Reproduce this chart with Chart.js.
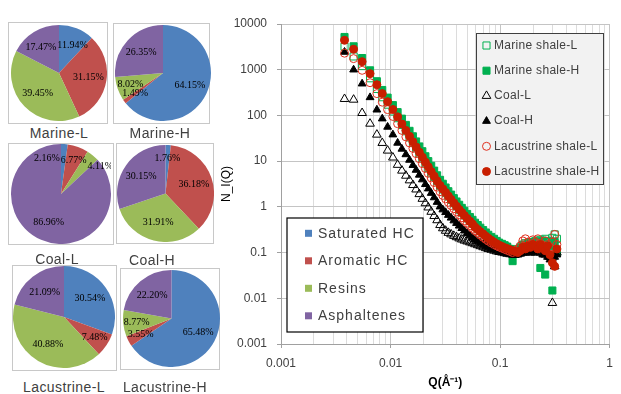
<!DOCTYPE html>
<html>
<head>
<meta charset="utf-8">
<script src="https://cdn.jsdelivr.net/npm/chart.js@4/dist/chart.umd.min.js"></script>
<style>
  body { margin: 0; width: 621px; height: 394px; position: relative; overflow: hidden; background: #fff; font-family: 'Liberation Sans', Arial, sans-serif; }
  canvas, .frame, .name { position: absolute; }
  .frame { box-sizing: border-box; border: 1px solid #c8c8c8; }
  .name { transform: translate(-50%, -50%); font-size: 14px; color: #404040; letter-spacing: 0.4px; white-space: nowrap; }
</style>
</head>
<body>
<canvas id="sansChart" width="411" height="394" style="left:210px;top:0"></canvas>

<div class="frame" style="left:8px;top:22px;width:100px;height:102px"></div>
<div class="frame" style="left:113px;top:23px;width:97px;height:101px"></div>
<div class="frame" style="left:8px;top:143px;width:106px;height:102px"></div>
<div class="frame" style="left:116px;top:143px;width:98px;height:101px"></div>
<div class="frame" style="left:12px;top:265px;width:105px;height:106px"></div>
<div class="frame" style="left:120px;top:268px;width:100px;height:102px"></div>

<canvas id="pieMarineL" width="96" height="96" style="left:11px;top:25px"></canvas>
<canvas id="pieMarineH" width="96" height="96" style="left:115px;top:25px"></canvas>
<canvas id="pieCoalL" width="100" height="100" style="left:11px;top:144px"></canvas>
<canvas id="pieCoalH" width="97" height="97" style="left:117px;top:145px"></canvas>
<canvas id="pieLacL" width="102" height="102" style="left:13px;top:266px"></canvas>
<canvas id="pieLacH" width="97" height="97" style="left:123px;top:270px"></canvas>

<div class="name" style="left:59px;top:133px">Marine-L</div>
<div class="name" style="left:160px;top:133px">Marine-H</div>
<div class="name" style="left:57px;top:259px">Coal-L</div>
<div class="name" style="left:152px;top:260px">Coal-H</div>
<div class="name" style="left:64px;top:387px">Lacustrine-L</div>
<div class="name" style="left:165px;top:387px">Lacustrine-H</div>

<script>
// Group composition (%), clockwise from 12 o'clock
const pieCategories = ["Saturated HC", "Aromatic HC", "Resins", "Asphaltenes"];
const pieColors = ["#4F81BD", "#C0504D", "#9BBB59", "#8064A2"];
const marineL = [11.94, 31.15, 39.45, 17.47];
const marineH = [64.15, 1.49, 8.02, 26.35];
const coalL = [2.16, 6.77, 4.11, 86.96];
const coalH = [1.76, 36.18, 31.91, 30.15];
const lacustrineL = [30.54, 7.48, 40.88, 21.09];
const lacustrineH = [65.48, 3.55, 8.77, 22.20];

// SANS curves: Q (1/Å) and N_I(Q)
const qValues = [0.0038, 0.0046, 0.0055, 0.0065, 0.0075, 0.0084, 0.0094, 0.0105, 0.0116, 0.0127,
  0.0138, 0.0149, 0.016, 0.0171, 0.0183, 0.0195, 0.0208, 0.0221, 0.0235, 0.025,
  0.0266, 0.0283, 0.03, 0.0318, 0.0337, 0.0357, 0.0378, 0.04, 0.0423, 0.0447,
  0.0472, 0.05, 0.053, 0.056, 0.059, 0.0625, 0.066, 0.07, 0.074, 0.078,
  0.083, 0.088, 0.093, 0.098, 0.104, 0.11, 0.116, 0.123, 0.13, 0.137,
  0.145, 0.153, 0.161, 0.17, 0.179, 0.189, 0.199, 0.21, 0.221, 0.233,
  0.245, 0.258, 0.271, 0.285, 0.3, 0.315, 0.33];
const marineShaleL = [3200, 1950, 1200, 650, 380, 250, 172, 122, 87, 62,
  45, 33, 25, 19.2, 14.8, 11.5, 9.0, 7.1, 5.6, 4.5,
  3.6, 2.9, 2.4, 2.0, 1.68, 1.42, 1.2, 1.02, 0.87, 0.75,
  0.65, 0.56, 0.49, 0.43, 0.38, 0.335, 0.295, 0.265, 0.238, 0.215,
  0.195, 0.178, 0.165, 0.155, 0.146, 0.138, 0.13, 0.12, 0.11, 0.105,
  0.11, 0.12, 0.14, 0.16, 0.15, 0.17, 0.16, 0.18, 0.17, 0.19,
  0.16, 0.2, 0.18, 0.17, 0.21, 0.25, 0.2];
const marineShaleH = [5200, 3250, 1800, 970, 560, 360, 245, 168, 118, 85,
  62, 46, 35, 27, 21, 16.5, 12.8, 10, 7.9, 6.2,
  4.9, 3.9, 3.2, 2.65, 2.2, 1.85, 1.55, 1.31, 1.11, 0.95,
  0.82, 0.7, 0.6, 0.52, 0.45, 0.4, 0.35, 0.31, 0.275, 0.245,
  0.22, 0.2, 0.18, 0.165, 0.155, 0.145, 0.135, 0.12, 0.065, 0.1,
  0.12, 0.13, 0.15, 0.14, 0.16, 0.15, 0.17, 0.16, 0.15, 0.046,
  0.18, 0.033, 0.16, 0.14, 0.0148, 0.17, 0.1];
const coalShaleL = [229, 221, 113, 66, 38, 25, 17, 12, 8.3, 6.2,
  4.8, 3.8, 3.0, 2.4, 1.9, 1.5, 1.2, 0.97, 0.78, 0.63,
  0.51, 0.4, 0.34, 0.3, 0.27, 0.25, 0.232, 0.217, 0.204, 0.193,
  0.183, 0.175, 0.167, 0.16, 0.152, 0.145, 0.138, 0.131, 0.125, 0.12,
  0.115, 0.11, 0.106, 0.103, 0.1, 0.097, 0.094, 0.092, 0.09, 0.09,
  0.092, 0.095, 0.1, 0.1, 0.105, 0.1, 0.11, 0.1, 0.12, 0.1,
  0.11, 0.09, 0.1, 0.08, 0.0079, 0.05, 0.1];
const coalShaleH = [2440, 1000, 494, 248, 133, 85, 56, 38, 25, 18.5,
  14, 10.6, 8.15, 6.4, 5.0, 3.95, 3.12, 2.5, 2.0, 1.6,
  1.27, 1.01, 0.87, 0.76, 0.66, 0.575, 0.5, 0.44, 0.385, 0.34,
  0.3, 0.265, 0.235, 0.21, 0.19, 0.175, 0.162, 0.15, 0.14, 0.132,
  0.125, 0.118, 0.113, 0.108, 0.104, 0.1, 0.097, 0.094, 0.09, 0.088,
  0.09, 0.095, 0.1, 0.11, 0.1, 0.12, 0.11, 0.1, 0.13, 0.11,
  0.09, 0.1, 0.08, 0.07, 0.076, 0.08, 0.09];
const lacustrineShaleL = [2300, 1750, 970, 520, 300, 195, 134, 95, 66, 47,
  34, 25, 19, 14.6, 11.3, 8.8, 6.9, 5.4, 4.3, 3.4,
  2.7, 2.15, 1.78, 1.5, 1.26, 1.07, 0.91, 0.78, 0.67, 0.58,
  0.5, 0.44, 0.39, 0.34, 0.3, 0.27, 0.24, 0.215, 0.195, 0.178,
  0.163, 0.15, 0.14, 0.132, 0.125, 0.118, 0.112, 0.106, 0.1, 0.11,
  0.12, 0.14, 0.18, 0.2, 0.17, 0.15, 0.19, 0.17, 0.2, 0.16,
  0.14, 0.18, 0.15, 0.13, 0.17, 0.25, 0.15];
const lacustrineShaleH = [4400, 2800, 1500, 820, 470, 300, 200, 135, 93, 65,
  47, 35, 26.5, 20.4, 15.7, 12.2, 9.5, 7.5, 5.9, 4.7,
  3.7, 2.95, 2.46, 2.06, 1.72, 1.45, 1.22, 1.03, 0.875, 0.75,
  0.647, 0.557, 0.484, 0.42, 0.36, 0.32, 0.285, 0.255, 0.228, 0.205,
  0.185, 0.168, 0.155, 0.145, 0.136, 0.128, 0.122, 0.116, 0.11, 0.105,
  0.1, 0.11, 0.13, 0.12, 0.14, 0.13, 0.15, 0.14, 0.12, 0.15,
  0.13, 0.11, 0.14, 0.09, 0.06, 0.05, 0.12];

const xTickLabels = ["0.001", "0.01", "0.1", "1"];
const yTickLabels = ["0.001", "0.01", "0.1", "1", "10", "100", "1000", "10000"];

// percentage labels inside the pie slices
const pieLabels = {
  id: "pieLabels",
  afterDatasetsDraw(chart) {
    const ctx = chart.ctx;
    const values = chart.data.datasets[0].data;
    const items = chart.getDatasetMeta(0).data.map((arc, i) => {
      const p = arc.getProps(["x", "y", "startAngle", "endAngle", "outerRadius"], true);
      const mid = (p.startAngle + p.endAngle) / 2;
      const k = values[i] < 10 ? 0.72 : 0.62;
      return { text: values[i].toFixed(2) + "%", x: p.x + Math.cos(mid) * p.outerRadius * k, y: p.y + Math.sin(mid) * p.outerRadius * k };
    });
    ctx.save();
    ctx.font = "10px 'Liberation Serif'";
    items.forEach(it => { it.w = ctx.measureText(it.text).width; });
    // push apart labels that collide
    for (let pass = 0; pass < 6; pass++) {
      for (let i = 0; i < items.length; i++) {
        for (let j = i + 1; j < items.length; j++) {
          const a = items[i], b = items[j];
          const need = (a.w + b.w) / 2 + 1;
          const dx = b.x - a.x;
          if (Math.abs(a.y - b.y) < 9 && Math.abs(dx) < need) {
            const s = (need - Math.abs(dx)) / 2;
            if (dx >= 0) { a.x -= s; b.x += s; } else { a.x += s; b.x -= s; }
          }
        }
      }
    }
    ctx.fillStyle = "#000";
    ctx.textAlign = "center";
    ctx.textBaseline = "middle";
    items.forEach(it => ctx.fillText(it.text, it.x, it.y));
    ctx.restore();
  }
};

function makePie(id, values) {
  new Chart(document.getElementById(id), {
    type: "pie",
    data: {
      labels: pieCategories,
      datasets: [{ data: values, backgroundColor: pieColors, borderWidth: 0 }]
    },
    options: {
      responsive: false,
      animation: false,
      layout: { padding: 0 },
      plugins: { legend: { display: false }, tooltip: { enabled: false } }
    },
    plugins: [pieLabels]
  });
}

makePie("pieMarineL", marineL);
makePie("pieMarineH", marineH);
makePie("pieCoalL", coalL);
makePie("pieCoalH", coalH);
makePie("pieLacL", lacustrineL);
makePie("pieLacH", lacustrineH);

// legends drawn inside the plot area
const insetLegends = {
  id: "insetLegends",
  afterDraw(chart) {
    const ctx = chart.ctx;
    ctx.save();
    ctx.fillStyle = "#f2f2f2";
    ctx.strokeStyle = "#404040";
    ctx.lineWidth = 1;
    ctx.fillRect(266.5, 33.5, 127, 151);
    ctx.strokeRect(266.5, 33.5, 127, 151);
    ctx.font = "12px 'Liberation Sans'";
    ctx.textBaseline = "middle";
    ctx.letterSpacing = "0.3px";
    chart.data.datasets.forEach((ds, i) => {
      const y = 45.5 + i * 25.2;
      ctx.fillStyle = ds.backgroundColor;
      ctx.strokeStyle = ds.borderColor;
      ctx.lineWidth = ds.borderWidth;
      Chart.helpers.drawPoint(ctx, { pointStyle: ds.pointStyle, radius: ds.pointRadius, borderWidth: ds.borderWidth, rotation: 0 }, 276.5, y);
      ctx.fillStyle = "#404040";
      ctx.fillText(ds.label, 284, y);
    });

    ctx.fillStyle = "#fff";
    ctx.strokeStyle = "#000";
    ctx.lineWidth = 1.2;
    ctx.fillRect(77, 218, 136, 114);
    ctx.strokeRect(77, 218, 136, 114);
    ctx.font = "14px 'Liberation Sans'";
    ctx.letterSpacing = "1px";
    pieCategories.forEach((name, i) => {
      const y = 233.3 + i * 27.5;
      ctx.fillStyle = pieColors[i];
      ctx.fillRect(95, y - 3.5, 7, 7);
      ctx.fillStyle = "#404040";
      ctx.fillText(name, 108, y + 0.5);
    });
    ctx.restore();
  }
};

function points(series) {
  return qValues.map((q, i) => ({ x: q, y: series[i] }));
}

function decadeTicks(lo, hi, minors) {
  const out = [];
  for (let e = lo; e <= hi; e++) {
    const steps = minors && e < hi ? 9 : 1;
    for (let k = 1; k <= steps; k++) out.push({ value: Number((k * Math.pow(10, e)).toPrecision(3)), major: k === 1 });
  }
  return out;
}

function tickLabel(value, labels) {
  const found = labels.find(l => Math.abs(Number(l) - value) < value * 1e-6);
  return found || "";
}

new Chart(document.getElementById("sansChart"), {
  type: "scatter",
  data: {
    datasets: [
      { label: "Marine shale-L", data: points(marineShaleL), pointStyle: "rect", pointRadius: 5, backgroundColor: "rgba(0,0,0,0)", borderColor: "#00B050", borderWidth: 1, order: 6 },
      { label: "Marine shale-H", data: points(marineShaleH), pointStyle: "rect", pointRadius: 5, backgroundColor: "#00B050", borderColor: "#00B050", borderWidth: 1, order: 5 },
      { label: "Coal-L", data: points(coalShaleL), pointStyle: "triangle", pointRadius: 5, backgroundColor: "rgba(0,0,0,0)", borderColor: "#000", borderWidth: 1, order: 4 },
      { label: "Coal-H", data: points(coalShaleH), pointStyle: "triangle", pointRadius: 4.5, backgroundColor: "#000", borderColor: "#000", borderWidth: 1, order: 3 },
      { label: "Lacustrine shale-L", data: points(lacustrineShaleL), pointStyle: "circle", pointRadius: 4, backgroundColor: "rgba(0,0,0,0)", borderColor: "#E0301E", borderWidth: 1, order: 2 },
      { label: "Lacustrine shale-H", data: points(lacustrineShaleH), pointStyle: "circle", pointRadius: 4, backgroundColor: "#C81E00", borderColor: "#C81E00", borderWidth: 1, order: 1 }
    ]
  },
  options: {
    responsive: false,
    animation: false,
    layout: { padding: { top: 24, right: 5, left: 0, bottom: 0 } },
    plugins: { legend: { display: false }, tooltip: { enabled: false } },
    scales: {
      x: {
        type: "logarithmic",
        min: 0.001,
        max: 1,
        afterBuildTicks: s => { s.ticks = decadeTicks(-3, 0, true); },
        afterFit: s => { s.height = 50; },
        border: { color: "#a0a0a0" },
        grid: {
          color: c => (c.tick && c.tick.major ? "#c4c4c4" : "#dcdcdc"),
          tickLength: 4,
          tickColor: c => (c.tick && c.tick.major ? "#a0a0a0" : "rgba(0,0,0,0)")
        },
        ticks: {
          autoSkip: false,
          maxRotation: 0,
          padding: 8,
          color: "#404040",
          font: { family: "'Liberation Sans'", size: 12 },
          callback: v => tickLabel(v, xTickLabels)
        },
        title: {
          display: true,
          text: "Q(Å⁻¹)",
          color: "#000",
          font: { family: "'Liberation Sans'", size: 12, weight: "bold" },
          padding: { top: 0, bottom: 4 }
        }
      },
      y: {
        type: "logarithmic",
        min: 0.001,
        max: 10000,
        afterBuildTicks: s => { s.ticks = decadeTicks(-3, 4, false); },
        afterFit: s => { s.width = 71; },
        border: { color: "#a0a0a0" },
        grid: { color: "#c4c4c4", tickLength: 4, tickColor: "#a0a0a0" },
        ticks: {
          autoSkip: false,
          padding: 10,
          color: "#404040",
          font: { family: "'Liberation Sans'", size: 12 },
          callback: v => tickLabel(v, yTickLabels)
        },
        title: {
          display: true,
          text: "N_I(Q)",
          color: "#000",
          font: { family: "'Liberation Sans'", size: 12 },
          padding: { top: 9, bottom: 0 }
        }
      }
    }
  },
  plugins: [insetLegends]
});
</script>
</body>
</html>
